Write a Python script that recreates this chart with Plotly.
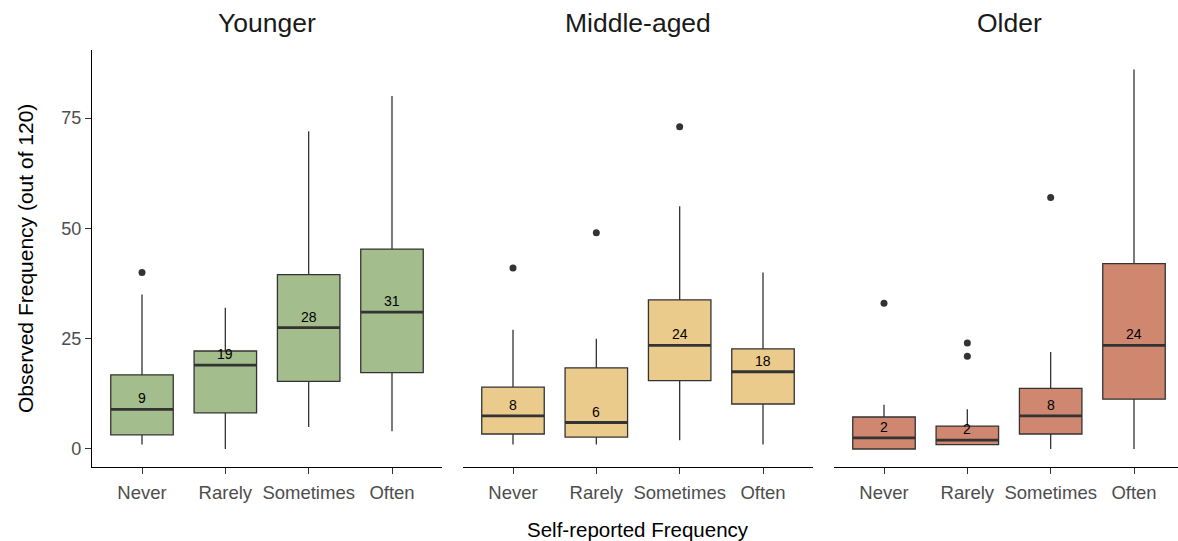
import plotly.graph_objects as go

categories = ["Never", "Rarely", "Sometimes", "Often"]
groups = ["Younger", "Middle-aged", "Older"]
colors = ["#A3BE8C", "#EBCB8B", "#D08770"]

# per group: values for Never, Rarely, Sometimes, Often
lower = {
    "Younger": [1, 0, 5, 4],
    "Middle-aged": [1, 1, 2, 1],
    "Older": [0, 1, 0, 0],
}
q1 = {
    "Younger": [3.2, 8.2, 15.3, 17.3],
    "Middle-aged": [3.4, 2.7, 15.5, 10.2],
    "Older": [0, 1.0, 3.4, 11.3],
}
median = {
    "Younger": [9, 19, 27.5, 31],
    "Middle-aged": [7.5, 6, 23.5, 17.5],
    "Older": [2.5, 2, 7.5, 23.5],
}
q3 = {
    "Younger": [16.8, 22.2, 39.5, 45.3],
    "Middle-aged": [14.0, 18.4, 33.8, 22.7],
    "Older": [7.25, 5.2, 13.75, 42],
}
upper = {
    "Younger": [35, 32, 72, 80],
    "Middle-aged": [27, 25, 55, 40],
    "Older": [10, 9, 22, 86],
}
median_labels = {
    "Younger": ["9", "19", "28", "31"],
    "Middle-aged": ["8", "6", "24", "18"],
    "Older": ["2", "2", "8", "24"],
}
outliers = {
    "Younger": [[40], [], [], []],
    "Middle-aged": [[41], [49], [73], []],
    "Older": [[33], [24, 21], [57], []],
}

W, H = 1178, 541
panel_px = [(92, 442), (463, 813), (834, 1184)]
y_top_px, y_bot_px = 50, 467
box_w = 0.75

fig = go.Figure()
font_family = "Liberation Sans, Arial, sans-serif"

for g_i, g in enumerate(groups):
    xa = "x" if g_i == 0 else f"x{g_i+1}"
    ya = "y" if g_i == 0 else f"y{g_i+1}"
    idx = list(range(len(categories)))
    for i in idx:
        fig.add_trace(go.Box(
            x=[i], q1=[q1[g][i]], median=[median[g][i]], q3=[q3[g][i]],
            lowerfence=[lower[g][i]], upperfence=[upper[g][i]],
            width=box_w, whiskerwidth=0,
            fillcolor=colors[g_i], line=dict(color="#333333", width=1.3),
            boxpoints=False, showlegend=False, hoverinfo="skip",
            xaxis=xa, yaxis=ya,
        ))
    # thick median lines
    mx, my = [], []
    for i in idx:
        mx += [i - box_w / 2, i + box_w / 2, None]
        my += [median[g][i], median[g][i], None]
    fig.add_trace(go.Scatter(x=mx, y=my, mode="lines",
                             line=dict(color="#333333", width=2.8),
                             showlegend=False, hoverinfo="skip",
                             xaxis=xa, yaxis=ya))
    # outliers
    ox, oy = [], []
    for i in idx:
        for v in outliers[g][i]:
            ox.append(i)
            oy.append(v)
    fig.add_trace(go.Scatter(x=ox, y=oy, mode="markers",
                             marker=dict(color="#333333", size=7),
                             showlegend=False, hoverinfo="skip",
                             xaxis=xa, yaxis=ya))
    # median labels
    for i in idx:
        fig.add_annotation(x=i, y=median[g][i], xref=xa, yref=ya,
                           text=median_labels[g][i], showarrow=False,
                           xanchor="center", yanchor="bottom", yshift=1,
                           font=dict(size=14, color="black", family=font_family))

ydom = [(H - y_bot_px) / H, (H - y_top_px) / H]
unit_px = (panel_px[0][1] - panel_px[0][0]) / 4.2
for g_i in range(3):
    l, r = panel_px[g_i]
    r_clip = min(r, W)
    xrange = [-0.6, 3.6 - (r - r_clip) / unit_px]
    key = "xaxis" if g_i == 0 else f"xaxis{g_i+1}"
    ykey = "yaxis" if g_i == 0 else f"yaxis{g_i+1}"
    ya_anchor = "y" if g_i == 0 else f"y{g_i+1}"
    xa_anchor = "x" if g_i == 0 else f"x{g_i+1}"
    fig.layout[key] = dict(
        domain=[l / W, r_clip / W], range=xrange, anchor=ya_anchor,
        tickmode="array", tickvals=list(range(4)), ticktext=categories,
        showline=True, linecolor="black", linewidth=1.3,
        ticks="outside", ticklen=6, tickcolor="#333333", tickwidth=1.2,
        ticklabelstandoff=3,
        tickfont=dict(size=18.5, color="#4d4d4d", family=font_family),
        showgrid=False, zeroline=False, fixedrange=True,
    )
    fig.layout[ykey] = dict(
        domain=ydom, range=[-4.08, 90.41], anchor=xa_anchor,
        tickmode="array", tickvals=[0, 25, 50, 75],
        showticklabels=(g_i == 0),
        showline=(g_i == 0), linecolor="black", linewidth=1.3,
        ticks="outside" if g_i == 0 else "", ticklen=6, tickcolor="#333333", tickwidth=1.2,
        tickfont=dict(size=18, color="#4d4d4d", family=font_family),
        showgrid=False, zeroline=False, fixedrange=True,
    )
    fig.add_annotation(
        text=groups[g_i], xref="paper", yref="paper",
        x=((l + r) / 2) / W, y=(H - 23) / H, showarrow=False,
        xanchor="center", yanchor="middle",
        font=dict(size=26.5, color="#1a1a1a", family=font_family),
    )

fig.add_annotation(text="Self-reported Frequency", xref="paper", yref="paper",
                   x=638 / W, y=(H - 529) / H, showarrow=False,
                   xanchor="center", yanchor="middle",
                   font=dict(size=20.5, color="black", family=font_family))
fig.add_annotation(text="Observed Frequency (out of 120)", xref="paper", yref="paper",
                   x=25 / W, y=(H - 259) / H, showarrow=False, textangle=-90,
                   xanchor="center", yanchor="middle",
                   font=dict(size=21, color="black", family=font_family))

fig.update_layout(
    width=W, height=H, margin=dict(l=0, r=0, t=0, b=0),
    paper_bgcolor="white", plot_bgcolor="white", showlegend=False,
)

fig.write_html("out.html", config={"displayModeBar": False},
               post_script="document.body.style.margin='0';document.body.style.overflow='hidden';")
